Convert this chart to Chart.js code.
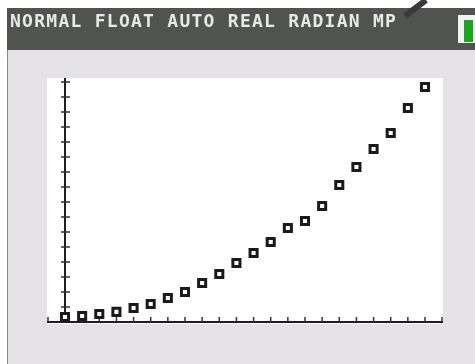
<!DOCTYPE html>
<html>
<head>
<meta charset="utf-8">
<script src="https://cdn.jsdelivr.net/npm/chart.js@4"></script>
<style>
  html, body { margin: 0; padding: 0; background: #ffffff; }
  #plot { display: block; }
</style>
</head>
<body>
<canvas id="plot" width="475" height="364"></canvas>
<script>
// stat plot data (x = L1, y = L2)
const xValues = [0, 1, 2, 3, 4, 5, 6, 7, 8, 9, 10, 11, 12, 13, 14, 15, 16, 17, 18, 19, 20, 21];
const yValues = [0.33, 0.4, 0.53, 0.67, 0.93, 1.2, 1.6, 2.0, 2.6, 3.2, 3.93, 4.6, 5.33, 6.27, 6.73, 7.73, 9.13, 10.33, 11.53, 12.6, 14.27, 15.67];

// window settings
const xMin = -1.05, xMax = 22.05;
const yMin = -0.07, yMax = 16.27;
const xTicks = [-1, 0, 1, 2, 3, 4, 5, 6, 7, 8, 9, 10, 11, 12, 13, 14, 15, 16, 17, 18, 19, 20, 21, 22];
const yTicks = [1, 2, 3, 4, 5, 6, 7, 8, 9, 10, 11, 12, 13, 14, 15, 16];

const statusText = 'NORMAL FLOAT AUTO REAL RADIAN MP';

const points = xValues.map((x, i) => ({ x: x, y: yValues[i] }));

// screen background, header bar, white graph window
const screenPlugin = {
  id: 'screen',
  beforeDraw(chart) {
    const ctx = chart.ctx;
    const area = chart.chartArea;
    ctx.save();
    ctx.fillStyle = '#ffffff';
    ctx.fillRect(0, 0, 475, 364);
    ctx.fillStyle = '#e5e2e7';
    ctx.fillRect(7, 50, 468, 314);
    ctx.fillStyle = '#8a8a8c';
    ctx.fillRect(7, 50, 1, 314);
    ctx.fillStyle = '#515351';
    ctx.fillRect(7, 8, 468, 42);
    ctx.fillStyle = '#ffffff';
    ctx.fillRect(area.left, area.top, area.right - area.left, area.bottom - area.top + 1);
    ctx.restore();
  },
  beforeDatasetsDraw(chart) {
    // axes with tick marks drawn through the chart scales
    const ctx = chart.ctx;
    const xs = chart.scales.x;
    const ys = chart.scales.y;
    const area = chart.chartArea;
    const x0 = xs.getPixelForValue(0);
    const y0 = ys.getPixelForValue(0);
    ctx.save();
    ctx.strokeStyle = '#1e1e1e';
    ctx.lineWidth = 2;
    ctx.beginPath();
    ctx.moveTo(area.left, y0);
    ctx.lineTo(area.right, y0);
    ctx.moveTo(x0, area.top);
    ctx.lineTo(x0, y0);
    ctx.stroke();
    ctx.lineWidth = 1.5;
    ctx.strokeStyle = '#333333';
    ctx.beginPath();
    xTicks.forEach(t => {
      const px = Math.min(Math.max(xs.getPixelForValue(t), area.left + 1), area.right - 1);
      ctx.moveTo(px, y0);
      ctx.lineTo(px, y0 - 5);
    });
    yTicks.forEach(t => {
      const py = ys.getPixelForValue(t);
      ctx.moveTo(x0 - 4, py);
      ctx.lineTo(x0 + 5, py);
    });
    ctx.stroke();
    ctx.restore();
  },
  afterDraw(chart) {
    const ctx = chart.ctx;
    ctx.save();
    // status line
    ctx.font = 'bold 18px "DejaVu Sans Mono"';
    ctx.fillStyle = '#e8e8e8';
    ctx.textBaseline = 'alphabetic';
    for (let i = 0; i < statusText.length; i++) {
      ctx.fillText(statusText[i], 10 + i * 12.1, 27);
    }
    // battery
    ctx.fillStyle = '#f2f2f2';
    ctx.fillRect(458, 15, 17, 28);
    ctx.fillStyle = '#1aa51a';
    ctx.fillRect(464, 20, 9, 22);
    // stylus shadow across the corner
    ctx.strokeStyle = '#3a3a3a';
    ctx.lineWidth = 6;
    ctx.lineCap = 'butt';
    ctx.beginPath();
    ctx.moveTo(405, 16);
    ctx.lineTo(426, 0);
    ctx.stroke();
    ctx.restore();
  }
};

const ctx = document.getElementById('plot').getContext('2d');
const statPlot = new Chart(ctx, {
  type: 'scatter',
  data: {
    datasets: [{
      label: 'L1, L2',
      data: points,
      pointStyle: 'rect',
      pointRadius: 5,
      pointBorderWidth: 3,
      borderColor: '#1a1a1a',
      backgroundColor: '#ffffff',
    }],
  },
  options: {
    responsive: false,
    devicePixelRatio: 1,
    animation: false,
    layout: {
      padding: { left: 47, right: 32, top: 78, bottom: 41 },
    },
    plugins: {
      legend: { display: false },
      tooltip: { enabled: false },
    },
    scales: {
      x: { type: 'linear', min: xMin, max: xMax, display: false },
      y: { type: 'linear', min: yMin, max: yMax, display: false },
    },
  },
  plugins: [screenPlugin],
});
</script>
</body>
</html>
